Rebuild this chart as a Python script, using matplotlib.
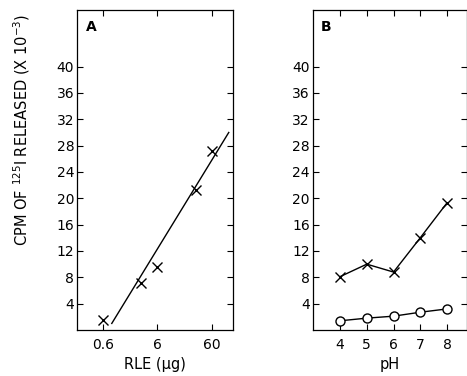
import matplotlib
matplotlib.use("Agg")
import matplotlib.pyplot as plt
from matplotlib.ticker import FixedLocator, NullLocator

# Panel A data
rle_ug = [0.6, 3, 6, 30, 60]
cpm_a = [1.5, 7.2, 9.5, 21.2, 27.2]
fit_x = [0.87, 122]
fit_y = [1.0, 30.0]

# Panel B data
ph = [4, 5, 6, 7, 8]
cpm_b_x = [8.1, 10.0, 8.8, 14.0, 19.3]
cpm_b_o = [1.4, 1.8, 2.1, 2.7, 3.2]

yticks = [4, 8, 12, 16, 20, 24, 28, 32, 36, 40]
a_xticks = [0.6, 6, 60]
a_xlabels = ["0.6", "6", "60"]

plt.rcParams['font.family'] = ['DejaVu Sans']
W, H = 467, 376
fig = plt.figure(figsize=(W/100, H/100), dpi=100)

def px_axes(l, r, t, b):
    return fig.add_axes([l/W, (H-b)/H, (r-l)/W, (b-t)/H])

axA = px_axes(77, 233, 10, 330)
axB = px_axes(312.5, 466.5, 10, 330)

for ax in (axA, axB):
    ax.set_ylim(0, 48.6)
    ax.yaxis.set_major_locator(FixedLocator(yticks))
    ax.yaxis.set_minor_locator(NullLocator())
    ax.tick_params(axis='both', which='both', direction='in', length=4, width=0.8,
                   top=True, right=True, labelsize=10, colors='black')
    ax.tick_params(axis='y', pad=2)
    ax.tick_params(axis='x', pad=6)
    for s in ax.spines.values():
        s.set_linewidth(0.9)

# Panel A
axA.set_xscale('log')
axA.set_xlim(0.2, 146)
axA.xaxis.set_major_locator(FixedLocator(a_xticks))
axA.xaxis.set_minor_locator(NullLocator())
axA.set_xticklabels(a_xlabels)
axA.plot(fit_x, fit_y, color='black', lw=1.0)
axA.plot(rle_ug, cpm_a, linestyle='none', marker='x', color='black', ms=6.5, mew=1.0)
axA.set_xlabel("RLE (\u03bcg)", fontsize=10.5, labelpad=3)
axA.text(0.055, 0.97, "A", transform=axA.transAxes, fontsize=10, fontweight='bold',
         ha='left', va='top')

# Panel B
axB.set_xlim(2.97, 8.73)
axB.xaxis.set_major_locator(FixedLocator(ph))
axB.plot(ph, cpm_b_x, color='black', lw=1.0, marker='x', ms=6.5, mew=1.0)
axB.plot(ph, cpm_b_o, color='black', lw=1.0, marker='o', ms=6.5, mfc='white', mew=1.0)
axB.set_xlabel("pH", fontsize=10.5, labelpad=3)
axB.text(0.055, 0.97, "B", transform=axB.transAxes, fontsize=10, fontweight='bold',
         ha='left', va='top')

fig.text(22/W, 1 - 130/H, "CPM OF $^{125}$I RELEASED (X 10$^{-3}$)", rotation=90,
         ha='center', va='center', fontsize=10.5)

fig.savefig("out.png", dpi=100)
